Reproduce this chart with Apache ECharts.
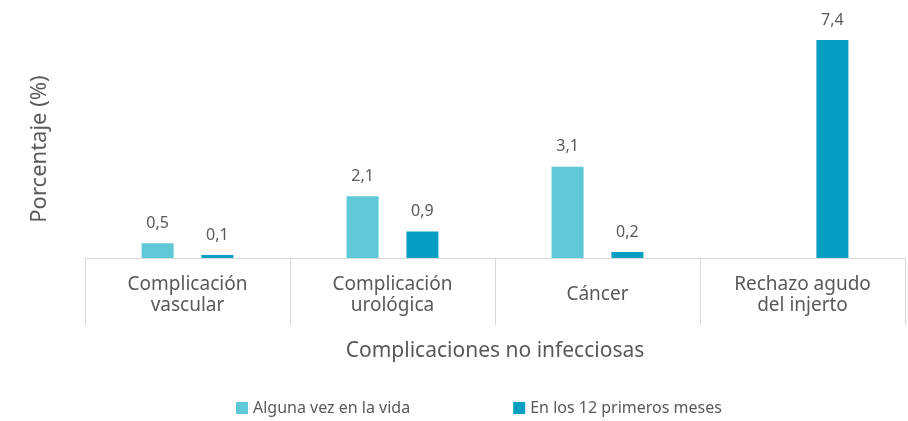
<!DOCTYPE html>
<html>
<head>
<meta charset="utf-8">
<script src="https://cdn.jsdelivr.net/npm/echarts@6/dist/echarts.min.js"></script>
<style>
  html, body { margin: 0; padding: 0; background: #fff; }
  #chart { width: 908px; height: 421px; }
</style>
</head>
<body>
<div id="chart"></div>
<script>
// Complicaciones no infecciosas - porcentaje
const categories = ['Complicación\nvascular', 'Complicación\nurológica', 'Cáncer', 'Rechazo agudo\ndel injerto']
const seriesNames = ['Alguna vez en la vida', 'En los 12 primeros meses']
const algunaVez = [0.5, 2.1, 3.1, null]
const primerosMeses = [0.1, 0.9, 0.2, 7.4]

const textColor = '#595959'
const fontFamily = '"Noto Sans", sans-serif'

const chart = echarts.init(document.getElementById('chart'))

const labelCfg = {
    show: true,
    position: 'top',
    distance: 12,
    color: textColor,
    fontSize: 16,
    fontFamily: fontFamily,
    formatter: p => (p.value == null ? '' : String(p.value).replace('.', ','))
}

const option = {
    animation: false,
    backgroundColor: '#fff',
    textStyle: { fontFamily: fontFamily },
    grid: { left: 85, right: 3, top: 40, bottom: 163 },
    legend: {
        bottom: 0,
        left: 231,
        itemWidth: 12,
        itemHeight: 12,
        itemGap: 103,
        icon: 'rect',
        textStyle: { color: textColor, fontSize: 16, fontFamily: fontFamily },
        data: seriesNames
    },
    xAxis: {
        type: 'category',
        data: categories,
        name: 'Complicaciones no infecciosas',
        nameLocation: 'middle',
        nameGap: 83,
        nameTextStyle: { color: textColor, fontSize: 21, fontFamily: fontFamily, verticalAlign: 'top' },
        axisLine: { lineStyle: { color: '#d9d9d9', width: 1 } },
        axisTick: { show: true, length: 67, lineStyle: { color: '#d9d9d9' } },
        axisLabel: {
            color: textColor, fontSize: 19, lineHeight: 21, margin: 16, fontFamily: fontFamily,
            // single-line labels sit centred in the two-line space
            formatter: v => (v.indexOf('\n') < 0 ? '{one|' + v + '}' : v),
            rich: {
                one: { color: textColor, fontSize: 19, lineHeight: 42, fontFamily: fontFamily }
            }
        }
    },
    yAxis: {
        type: 'value',
        min: 0,
        max: 7.4,
        name: 'Porcentaje (%)',
        nameLocation: 'middle',
        nameGap: 34,
        nameRotate: 90,
        nameTextStyle: { color: textColor, fontSize: 22, fontFamily: fontFamily },
        axisLine: { show: false },
        axisTick: { show: false },
        axisLabel: { show: false },
        splitLine: { show: false }
    },
    series: [
        {
            name: seriesNames[0],
            type: 'bar',
            data: algunaVez,
            barWidth: 32,
            barGap: '87%',
            itemStyle: { color: '#5ec8d6' },
            label: labelCfg
        },
        {
            name: seriesNames[1],
            type: 'bar',
            data: primerosMeses,
            barWidth: 32,
            barGap: '87%',
            itemStyle: { color: '#069ec3' },
            label: labelCfg
        }
    ]
}

chart.setOption(option)
</script>
</body>
</html>
